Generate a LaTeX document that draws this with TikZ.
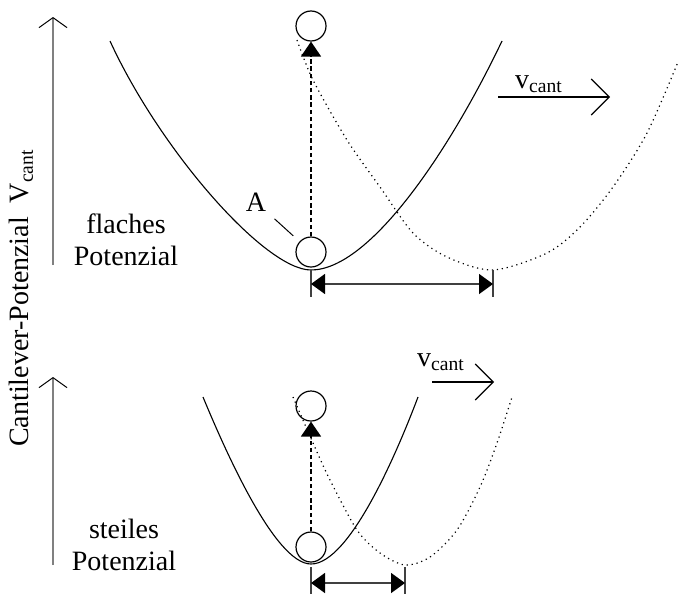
\documentclass[tikz,border=0pt]{standalone}
\usepackage{fontspec}
\setmainfont{Liberation Serif}
\usepackage{tikz}
\usetikzlibrary{arrows.meta}

\tikzset{
  ball/.style={circle,draw,line width=0.6pt,minimum size=15pt,inner sep=0pt},
  curve/.style={line width=0.55pt},
  shifted/.style={line width=0.6pt,dash pattern=on 0.6pt off 1.9pt},
  lift/.style={line width=0.9pt,dash pattern=on 2.2pt off 1.4pt,-{Triangle[length=7.5pt,width=10pt]}},
  axis/.style={gray,line width=0.75pt,-{Straight Barb[length=5pt,width=14pt,line width=0.5pt,black]}},
  speed/.style={line width=0.55pt,-{Straight Barb[length=9pt,width=18pt]}},
  gap/.style={black!75,line width=0.75pt,{Triangle[length=7pt,width=10pt,black]}-{Triangle[length=7pt,width=10pt,black]}},
  tick/.style={black!75,line width=0.75pt},
  lbl/.style={font=\fontsize{14}{16}\selectfont,inner sep=0pt,align=center}
}

\begin{document}
\begin{tikzpicture}[x=0.5pt,y=-0.5pt]
			\useasboundingbox (0,0) rectangle (684,594);
			
			\coordinate (ax1a) at (53,265);
			\coordinate (ax1b) at (53,17);
			\coordinate (ax2a) at (53,565);
			\coordinate (ax2b) at (53,377);
			
			\draw[axis] (ax1a)--(ax1b);
			\draw[axis] (ax2a)--(ax2b);
			\node[lbl,rotate=90] (ylab) at (21,298) {Cantilever-Potenzial\ \ V\textsubscript{cant}};
			
			% flaches Potenzial
			\coordinate (m1) at (311,270);
			\draw[curve] (110,41) .. controls (160,150) and (265,270) .. (m1)
				.. controls (370,270) and (450,150) .. (502,41);
			\draw[shifted] plot[smooth] coordinates {(297,40) (313,80) (347,140) (380,187) (413,233) (447,257) (493,270) (547,253) (580,227) (613,187) (647,133) (678,62)};
			
			\node[ball] (ballA) at (311,252) {};
			\node[ball] (ballA2) at (311,26) {};
			\draw[lift] (ballA)--(ballA2);
			
			\node[lbl] (A) at (256,202) {A};
			\draw[line width=0.5pt,shorten <=12.5pt,shorten >=12pt] (A.center)--(ballA.center);
			\node[lbl] (flach) at (126,240) {flaches\\Potenzial};
			
			\coordinate (m1e) at (311,297);
			\coordinate (n1) at (493,270);
			\coordinate (n1e) at (493,297);
			\coordinate (d1l) at (311,284);
			\coordinate (d1r) at (493,284);
			\draw[tick] (m1)--(m1e);
			\draw[tick] (n1)--(n1e);
			\draw[gap] (d1l)--(d1r);
			
			\coordinate (v1a) at (498,97);
			\coordinate (v1b) at (610,97);
			\draw[speed] (v1a)--(v1b);
			\node[lbl] (v1) at (539,84) {v\textsubscript{cant}};
			
			% steiles Potenzial
			\coordinate (m2) at (311,564);
			\draw[curve] (203,397) .. controls (225,450) and (275,564) .. (m2)
				.. controls (350,564) and (398,450) .. (418,397);
			\draw[shifted] plot[smooth] coordinates {(293,397) (313,443) (330,480) (357,530) (380,553) (405,565) (430,557) (457,530) (480,487) (497,443) (512,397)};
			
			\node[ball] (ballB) at (311,547) {};
			\node[ball] (ballB2) at (311,406) {};
			\draw[lift] (ballB)--(ballB2);
			
			\node[lbl] (steil) at (124,545) {steiles\\Potenzial};
			
			\coordinate (m2t) at (311,567);
			\coordinate (m2e) at (311,594);
			\coordinate (n2) at (405,567);
			\coordinate (n2e) at (405,594);
			\coordinate (d2l) at (311,583);
			\coordinate (d2r) at (405,583);
			\draw[tick] (m2t)--(m2e);
			\draw[tick] (n2)--(n2e);
			\draw[gap] (d2l)--(d2r);
			
			\coordinate (v2a) at (432,382);
			\coordinate (v2b) at (494,382);
			\draw[speed] (v2a)--(v2b);
			\node[lbl] (v2) at (441,362) {v\textsubscript{cant}};
		\end{tikzpicture}
\end{document}
